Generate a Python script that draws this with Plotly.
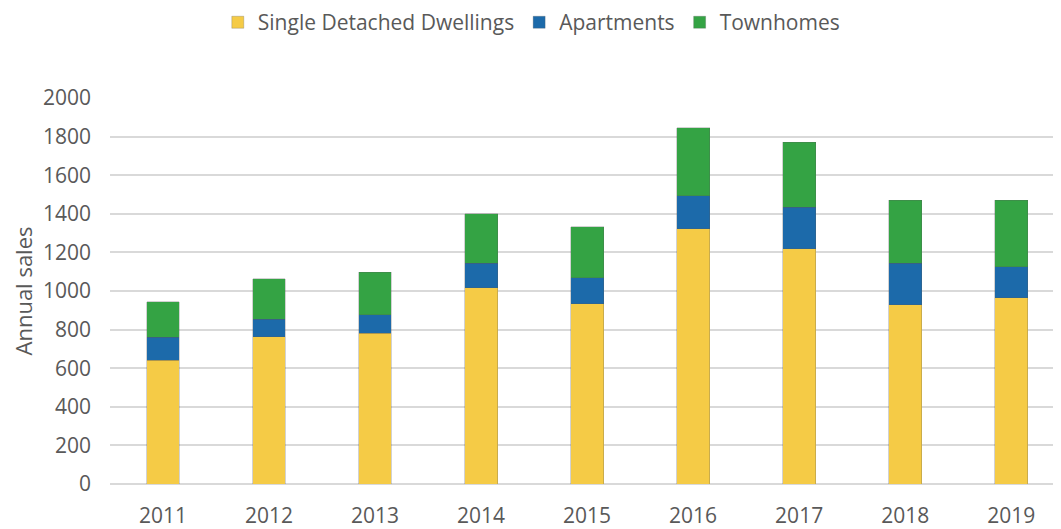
import plotly.graph_objects as go

years = ["2011", "2012", "2013", "2014", "2015", "2016", "2017", "2018", "2019"]
single_detached = [641, 762, 781, 1016, 934, 1322, 1218, 929, 965]
apartments = [119, 91, 96, 129, 134, 171, 216, 216, 160]
townhomes = [184, 210, 220, 255, 266, 352, 337, 324, 344]
y_ticks = [0, 200, 400, 600, 800, 1000, 1200, 1400, 1600, 1800, 2000]

FONT = "Open Sans"
TXT = "#595959"

fig = go.Figure()
series = [
    ("Single Detached Dwellings", single_detached, "#F5CB46"),
    ("Apartments", apartments, "#1C6AAA"),
    ("Townhomes", townhomes, "#34A344"),
]
for name, vals, col in series:
    fig.add_trace(go.Bar(
        x=years, y=vals, name=name, width=0.31,
        marker=dict(color=col, line=dict(width=0.6, color="rgba(90,90,90,0.45)")),
    ))

# page has an 8px body margin; figure is sized/positioned to compensate
fig.update_layout(
    barmode="stack",
    width=1053, height=521,
    margin=dict(l=102, r=0, t=90, b=45, autoexpand=False),
    paper_bgcolor="white", plot_bgcolor="white",
    font=dict(family=FONT, color=TXT, size=21),
    showlegend=True,
    legend=dict(orientation="h", x=0.443, xanchor="center", y=0.972, yref="container",
                yanchor="middle", font=dict(size=21, color=TXT, family=FONT),
                traceorder="normal", itemwidth=30),
    xaxis=dict(type="category", range=[-0.5, 8.47], showgrid=False, showline=False,
               ticks="", ticklabelstandoff=17, tickfont=dict(size=21, color=TXT)),
    yaxis=dict(range=[0, 2000], tickvals=y_ticks, showgrid=True, gridcolor="#D9D9D9",
               gridwidth=1.5, zeroline=True, zerolinecolor="#D9D9D9", zerolinewidth=1.5,
               ticks="", ticklabelstandoff=18,
               tickfont=dict(size=21, color=TXT),
               title=dict(text="Annual sales", font=dict(size=22, color=TXT), standoff=20)),
)

fig.write_html("out.html")
